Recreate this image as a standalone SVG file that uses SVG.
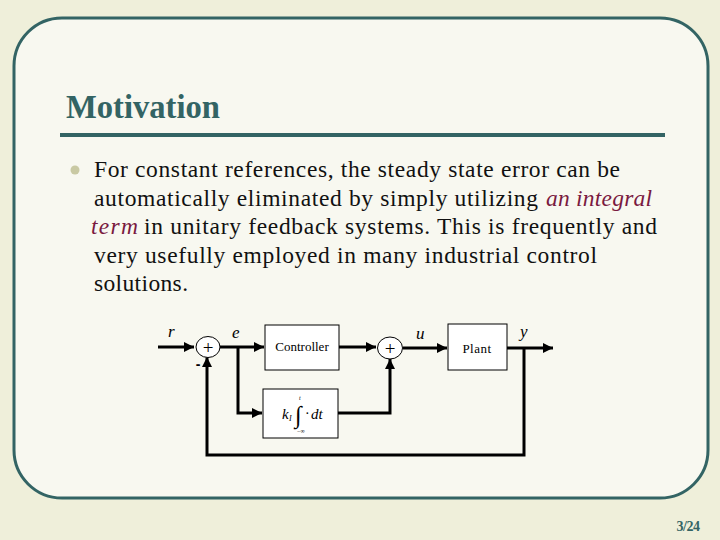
<svg xmlns="http://www.w3.org/2000/svg" width="720" height="540" viewBox="0 0 720 540">
<defs>
<style>
.body{font-size:23.5px;fill:#111}
.em{font-style:italic;fill:#7a1a40}
.wire{fill:none;stroke:#000;stroke-width:3}
.box{fill:#fff;stroke:#000;stroke-width:1}
.lbl{font-size:13px;fill:#000;text-anchor:middle}
.var{font-style:italic;font-size:17px;fill:#000}
.sum{fill:#fff;stroke:#000;stroke-width:1}
</style>
<marker id="ah" markerWidth="10" markerHeight="10" refX="10" refY="5" orient="auto" markerUnits="userSpaceOnUse">
<path d="M0,0 L10,5 L0,10 Z" fill="#000"/>
</marker>
</defs>
<rect width="720" height="540" fill="#efefda"/>
<path d="M62,18 H660 A48,48 0 0 1 708,66 V450 A48,48 0 0 1 660,498 H62 A48,48 0 0 1 14,450 V66 A48,48 0 0 1 62,18 Z" fill="#f8f8f0" stroke="#336464" stroke-width="3"/>
<g id="title">
<text x="66" y="118" font-family="Liberation Serif, serif" font-weight="bold" font-size="33" fill="#336464" textLength="154" lengthAdjust="spacingAndGlyphs">Motivation</text>
<rect x="60" y="133" width="605" height="4" fill="#336464"/>
</g>
<g id="bullet-text" font-family="Liberation Serif, serif">
<circle cx="75" cy="170" r="4.5" fill="#c9c9a3"/>
<text class="body" x="94" y="177" textLength="526">For constant references, the steady state error can be</text>
<text class="body" x="94" y="205.5" textLength="444">automatically eliminated by simply utilizing</text>
<text class="body em" x="546" y="205.5" textLength="106">an integral</text>
<text class="body em" x="91" y="234" textLength="47">term</text>
<text class="body" x="144" y="234" textLength="513">in unitary feedback systems. This is frequently and</text>
<text class="body" x="94" y="262.5" textLength="503">very usefully employed in many industrial control</text>
<text class="body" x="94" y="291" textLength="94">solutions.</text>
</g>
<g id="connectors">
<path class="wire" d="M158,347 H194" marker-end="url(#ah)"/>
<path class="wire" d="M220,347 H264" marker-end="url(#ah)"/>
<path class="wire" d="M238,347 V413 H262" marker-end="url(#ah)"/>
<path class="wire" d="M339,347 H376" marker-end="url(#ah)"/>
<path class="wire" d="M338,413 H390 V359" marker-end="url(#ah)"/>
<path class="wire" d="M403,348 H447" marker-end="url(#ah)"/>
<path class="wire" d="M507,348 H553" marker-end="url(#ah)"/>
<path class="wire" d="M524,348 V455 H207 V357" marker-end="url(#ah)"/>
</g>
<g id="sum1">
<ellipse class="sum" cx="208" cy="347" rx="12" ry="10.5"/>
<text x="208" y="353.5" font-family="Liberation Serif, serif" font-size="19" text-anchor="middle">+</text>
<text x="198" y="369" font-family="Liberation Sans, sans-serif" font-size="14" font-weight="bold" text-anchor="middle">-</text>
</g>
<g id="labels" font-family="Liberation Serif, serif">
<text class="var" x="168" y="337">r</text>
<text class="var" x="232" y="338">e</text>
<text class="var" x="416" y="339">u</text>
<text class="var" x="520" y="337">y</text>
</g>
<g id="controller">
<rect class="box" x="265" y="325" width="74" height="45"/>
<text class="lbl" font-family="Liberation Serif, serif" x="302" y="351">Controller</text>
</g>
<g id="integral">
<rect class="box" x="263" y="389" width="75" height="49"/>
<text x="282" y="419" font-family="Liberation Serif, serif" font-style="italic" font-size="15">k</text>
<text x="289" y="421" font-family="Liberation Serif, serif" font-style="italic" font-size="8">I</text>
<text x="295" y="423" font-family="Liberation Serif, serif" font-size="24">∫</text>
<text x="299" y="400" font-family="Liberation Serif, serif" font-style="italic" font-size="6">t</text>
<text x="297" y="433" font-family="Liberation Serif, serif" font-size="6">−∞</text>
<text x="305" y="418" font-family="Liberation Serif, serif" font-size="14">·</text>
<text x="311" y="419" font-family="Liberation Serif, serif" font-style="italic" font-size="15">dt</text>
</g>
<g id="sum2">
<ellipse class="sum" cx="390" cy="348" rx="12.5" ry="11"/>
<text x="390" y="354.5" font-family="Liberation Serif, serif" font-size="19" text-anchor="middle">+</text>
</g>
<g id="plant">
<rect class="box" x="448" y="324" width="59" height="46"/>
<text class="lbl" font-family="Liberation Serif, serif" x="477" y="353" font-size="14" letter-spacing="0.5">Plant</text>
</g>
<text x="688" y="531" font-family="Liberation Serif, serif" font-weight="bold" font-size="14" fill="#336464" text-anchor="middle" letter-spacing="-0.5">3/24</text>
</svg>
